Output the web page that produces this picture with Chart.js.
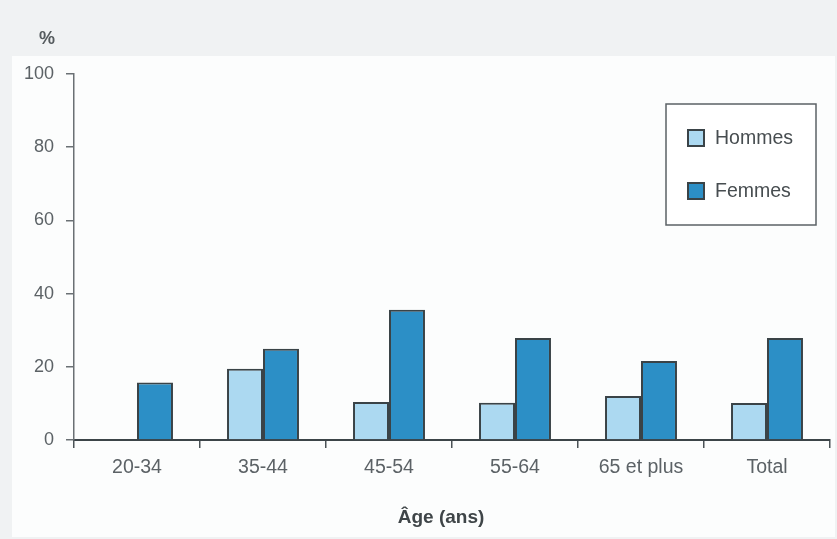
<!DOCTYPE html>
<html lang="fr">
<head>
<meta charset="utf-8">
<title>Âge (ans)</title>
<script src="https://cdn.jsdelivr.net/npm/chart.js@4.4.1/dist/chart.umd.min.js"></script>
<style>
  html, body { margin: 0; padding: 0; background: #f0f2f3; }
  #wrap { position: relative; width: 837px; height: 539px; }
  canvas { display: block; }
</style>
</head>
<body>
<div id="wrap"><canvas id="chart" width="837" height="539"></canvas></div>
<script>
// Tranches d'âge et pourcentages par sexe
const categories = ['20-34', '35-44', '45-54', '55-64', '65 et plus', 'Total'];
const hommes = [null, 19.5, 10.4, 10.2, 12.0, 10.1];
const femmes = [15.7, 24.9, 35.6, 27.9, 21.6, 27.9];
const yTicks = [0, 20, 40, 60, 80, 100];
const seriesNames = ['Hommes', 'Femmes'];
const axisTitle = 'Âge (ans)';

const FONT = "'Liberation Sans', Arial, Helvetica, sans-serif";
const EDGE = '#3a4347';

// Fond clair avec zone blanche autour du graphique
const backdrop = {
  id: 'backdrop',
  beforeDraw(chart) {
    const ctx = chart.ctx;
    ctx.save();
    ctx.fillStyle = '#f0f2f3';
    ctx.fillRect(0, 0, chart.width, chart.height);
    ctx.fillStyle = '#fcfdfd';
    ctx.fillRect(12, 56, chart.width - 14, chart.height - 58);
    ctx.restore();
  }
};

// Symbole d'unité et titre de l'axe horizontal
const labels = {
  id: 'labels',
  afterDraw(chart) {
    const ctx = chart.ctx;
    ctx.save();
    ctx.textAlign = 'center';
    ctx.textBaseline = 'middle';
    ctx.font = 'bold 18px ' + FONT;
    ctx.fillStyle = '#555b5e';
    ctx.fillText('%', 47, 39);
    ctx.font = 'bold 19px ' + FONT;
    ctx.fillStyle = '#3f4548';
    ctx.fillText(axisTitle, 441, 518);
    ctx.restore();
  }
};

// Légende encadrée dans le coin supérieur droit
const boxedLegend = {
  id: 'boxedLegend',
  afterDraw(chart) {
    const ctx = chart.ctx;
    const box = { x: 666, y: 104, w: 150, h: 121 };
    ctx.save();
    ctx.fillStyle = '#ffffff';
    ctx.fillRect(box.x, box.y, box.w, box.h);
    ctx.strokeStyle = '#5b6266';
    ctx.lineWidth = 1.5;
    ctx.strokeRect(box.x, box.y, box.w, box.h);
    ctx.font = '19.5px ' + FONT;
    ctx.textBaseline = 'middle';
    ctx.textAlign = 'left';
    const rows = [138, 191];
    chart.data.datasets.forEach((ds, i) => {
      const cy = rows[i];
      ctx.fillStyle = ds.backgroundColor;
      ctx.fillRect(688, cy - 8, 16, 16);
      ctx.strokeStyle = EDGE;
      ctx.lineWidth = 2;
      ctx.strokeRect(688, cy - 8, 16, 16);
      ctx.fillStyle = '#474d50';
      ctx.fillText(ds.label, 715, cy + 1);
    });
    ctx.restore();
  }
};

new Chart(document.getElementById('chart'), {
  type: 'bar',
  data: {
    labels: categories,
    datasets: [
      {
        label: seriesNames[0],
        data: hommes,
        backgroundColor: '#acd9f1',
        borderColor: EDGE,
        borderWidth: 2
      },
      {
        label: seriesNames[1],
        data: femmes,
        backgroundColor: '#2c8fc6',
        borderColor: EDGE,
        borderWidth: 2
      }
    ]
  },
  options: {
    responsive: false,
    animation: false,
    devicePixelRatio: 1,
    layout: { padding: { left: 0, right: 7, top: 74, bottom: 0 } },
    datasets: {
      bar: { categoryPercentage: 0.571, barPercentage: 1.0 }
    },
    plugins: {
      legend: { display: false },
      tooltip: { enabled: false },
      title: { display: false }
    },
    scales: {
      x: {
        afterFit(scale) { scale.height = 99; },
        grid: {
          offset: true,
          drawOnChartArea: false,
          drawTicks: true,
          tickLength: 8,
          color: '#4a5256',
          lineWidth: 1.5
        },
        border: { display: true, color: '#3c4448', width: 2 },
        ticks: {
          color: '#5c6266',
          font: { family: FONT, size: 19.5 },
          padding: 8,
          maxRotation: 0,
          autoSkip: false
        }
      },
      y: {
        min: 0,
        max: 100,
        afterFit(scale) { scale.width = 74; },
        afterBuildTicks(scale) { scale.ticks = yTicks.map(v => ({ value: v })); },
        grid: {
          drawOnChartArea: false,
          drawTicks: true,
          tickLength: 8,
          color: '#6a7074',
          lineWidth: 1.5
        },
        border: { display: true, color: '#6a7074', width: 1.5 },
        ticks: {
          color: '#5c6266',
          font: { family: FONT, size: 18 },
          padding: 12
        }
      }
    }
  },
  plugins: [backdrop, labels, boxedLegend]
});
</script>
</body>
</html>
